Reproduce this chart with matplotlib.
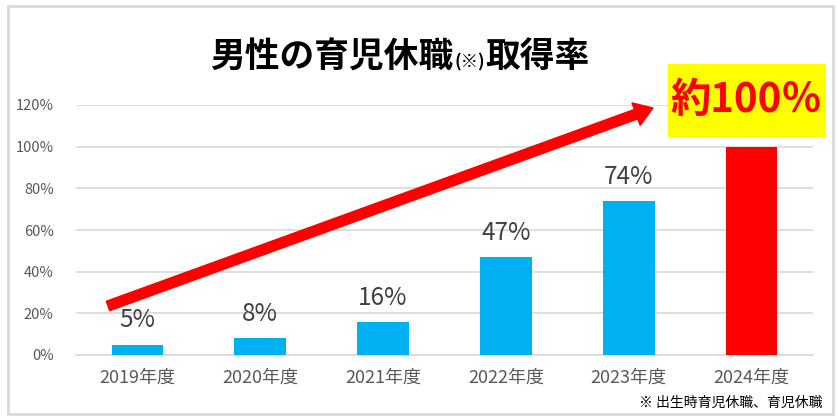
import matplotlib
matplotlib.use("Agg")
import matplotlib.pyplot as plt
import matplotlib.patches as mpatches
from matplotlib.transforms import IdentityTransform

plt.rcParams['font.family'] = ['Noto Sans CJK JP', 'DejaVu Sans']

years = ['2019年度', '2020年度', '2021年度', '2022年度', '2023年度', '2024年度']
rates = [5, 8, 16, 47, 74, 100]
labels = ['5%', '8%', '16%', '47%', '74%', '']
bar_colors = ['#00B0F0'] * 5 + ['#FF0000']
yticks = [0, 20, 40, 60, 80, 100, 120]

W, H = 838, 420
fig = plt.figure(figsize=(W / 100, H / 100), dpi=100)
ax = fig.add_axes([76 / W, 1 - 355 / H, (813 - 76) / W, (355 - 105) / H])

x = list(range(len(years)))
ax.bar(x, rates, width=0.42, color=bar_colors, zorder=3)
ax.set_xlim(-0.5, len(years) - 0.5)
ax.set_ylim(0, 120)
ax.set_yticks(yticks)
ax.set_yticklabels([f'{v}%' for v in yticks], fontsize=10.5, color='#595959')
ax.set_xticks(x)
ax.set_xticklabels(years, fontsize=13, color='#595959')
ax.tick_params(axis='both', length=0)
ax.tick_params(axis='x', pad=10)
ax.tick_params(axis='y', pad=16)
ax.grid(axis='y', color='#D9D9D9', linewidth=1.2, zorder=0)
for s in ['top', 'right', 'left']:
    ax.spines[s].set_visible(False)
ax.spines['bottom'].set_color('#D9D9D9')
ax.spines['bottom'].set_linewidth(1.2)

for xi, v, lab in zip(x, rates, labels):
    if lab:
        ax.annotate(lab, (xi, v), xytext=(0, 8), textcoords='offset points',
                    ha='center', va='bottom', fontsize=17.5, color='#404040')

# outer border
fig.add_artist(mpatches.Rectangle((8 / W, 1 - 414 / H), (833 - 8) / W, (414 - 6) / H,
                                  transform=fig.transFigure, fill=False,
                                  edgecolor='#D9D9D9', linewidth=2))

# title, with small (※)
fig.canvas.draw()
r = fig.canvas.get_renderer()
ty = 1 - 67 / H
t1 = fig.text(211 / W, ty, '男性の育児休職', fontsize=25, fontweight='bold',
              ha='left', va='baseline', color='black')
bb = t1.get_window_extent(r)
t2 = fig.text(bb.x1 / W, ty, '(※)', fontsize=12.5, fontweight='bold',
              ha='left', va='baseline', color='black')
bb2 = t2.get_window_extent(r)
fig.text(bb2.x1 / W, ty, '取得率', fontsize=25, fontweight='bold',
         ha='left', va='baseline', color='black')

# arrow
arrow = mpatches.FancyArrow(108, H - 306, 653 - 108, (H - 108) - (H - 306),
                            width=10, head_width=24, head_length=18,
                            length_includes_head=True, color='#FF0000',
                            transform=IdentityTransform(), zorder=5)
fig.add_artist(arrow)

# 約100% label
fig.add_artist(mpatches.Rectangle((668 / W, 1 - 137 / H), (826 - 668) / W, (137 - 64) / H,
                                  transform=fig.transFigure, facecolor='#FFFF00',
                                  edgecolor='none'))
fig.text(746 / W, 1 - 100 / H, '約100％', fontsize=29, fontweight='bold',
         color='#FF0000', ha='center', va='center')

fig.text(822 / W, 1 - 403 / H, '※ 出生時育児休職、育児休職', fontsize=10,
         color='black', ha='right', va='center')

fig.savefig('out.png', dpi=100)
